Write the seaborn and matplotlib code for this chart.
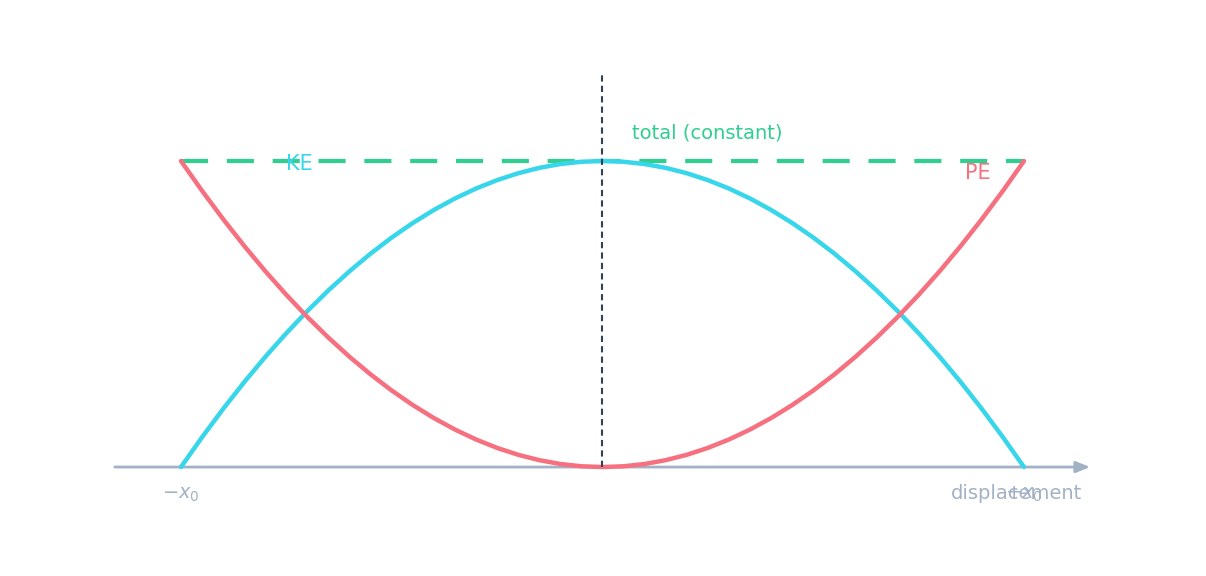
import matplotlib
matplotlib.use("Agg")
import matplotlib.pyplot as plt
import seaborn as sns
import pandas as pd

# displacement in units of x0, energies in units of total energy
displacement = [-1.0, -0.95, -0.9, -0.85, -0.8, -0.75, -0.7, -0.65, -0.6, -0.55, -0.5,
                -0.45, -0.4, -0.35, -0.3, -0.25, -0.2, -0.15, -0.1, -0.05, 0.0,
                0.05, 0.1, 0.15, 0.2, 0.25, 0.3, 0.35, 0.4, 0.45, 0.5,
                0.55, 0.6, 0.65, 0.7, 0.75, 0.8, 0.85, 0.9, 0.95, 1.0]
pe = [1.0, 0.9025, 0.81, 0.7225, 0.64, 0.5625, 0.49, 0.4225, 0.36, 0.3025, 0.25,
      0.2025, 0.16, 0.1225, 0.09, 0.0625, 0.04, 0.0225, 0.01, 0.0025, 0.0,
      0.0025, 0.01, 0.0225, 0.04, 0.0625, 0.09, 0.1225, 0.16, 0.2025, 0.25,
      0.3025, 0.36, 0.4225, 0.49, 0.5625, 0.64, 0.7225, 0.81, 0.9025, 1.0]
ke = [0.0, 0.0975, 0.19, 0.2775, 0.36, 0.4375, 0.51, 0.5775, 0.64, 0.6975, 0.75,
      0.7975, 0.84, 0.8775, 0.91, 0.9375, 0.96, 0.9775, 0.99, 0.9975, 1.0,
      0.9975, 0.99, 0.9775, 0.96, 0.9375, 0.91, 0.8775, 0.84, 0.7975, 0.75,
      0.6975, 0.64, 0.5775, 0.51, 0.4375, 0.36, 0.2775, 0.19, 0.0975, 0.0]
total_x = [-1.0, 1.0]
total_y = [1.0, 1.0]

df = pd.DataFrame({"x": displacement, "PE": pe, "KE": ke})
tot = pd.DataFrame({"x": total_x, "y": total_y})

sns.set_theme(style="white")
plt.rcParams['font.family'] = ['DejaVu Sans']

c_ke = '#38d6ea'
c_pe = '#f7707f'
c_tot = '#2fcf8f'
c_axis = '#a3b1c6'
c_mid = '#334155'

fig = plt.figure(figsize=(12.06, 5.76), dpi=100)
ax = fig.add_axes([0, 0, 1, 1])

sns.lineplot(data=tot, x='x', y='y', ax=ax, color=c_tot, lw=3, dashes=False,
             linestyle=(0, (6.5, 4.5)), zorder=2)
sns.lineplot(data=df, x='x', y='KE', ax=ax, color=c_ke, lw=3.2, zorder=3)
sns.lineplot(data=df, x='x', y='PE', ax=ax, color=c_pe, lw=3.2, zorder=4)

# displacement axis with arrow
ax.annotate('', xy=(1.157, 0), xytext=(-1.157, 0),
            arrowprops=dict(arrowstyle='-|>,head_length=0.7,head_width=0.28',
                            color=c_axis, lw=2, shrinkA=0, shrinkB=0), zorder=1)
# equilibrium line
ax.plot([0, 0], [0, 1.28], color=c_mid, lw=1.5, linestyle=(0, (3, 2)), zorder=5)

ax.text(-1.0, -0.09, r'$-x_0$', color=c_axis, fontsize=14, ha='center', va='center')
ax.text(1.0, -0.09, r'$+x_0$', color=c_axis, fontsize=14, ha='center', va='center')
ax.text(1.138, -0.087, 'displacement', color=c_axis, fontsize=14, ha='right', va='center')
ax.text(0.07, 1.09, 'total (constant)', color=c_tot, fontsize=14, ha='left', va='center')
ax.text(-0.718, 0.99, 'KE', color=c_ke, fontsize=15, ha='center', va='center')
ax.text(0.891, 0.961, 'PE', color=c_pe, fontsize=15, ha='center', va='center')

ax.set_xlim(-1.4294, 1.4318)
ax.set_ylim(-0.356, 1.526)
ax.axis('off')

fig.savefig('out.png', dpi=100)
